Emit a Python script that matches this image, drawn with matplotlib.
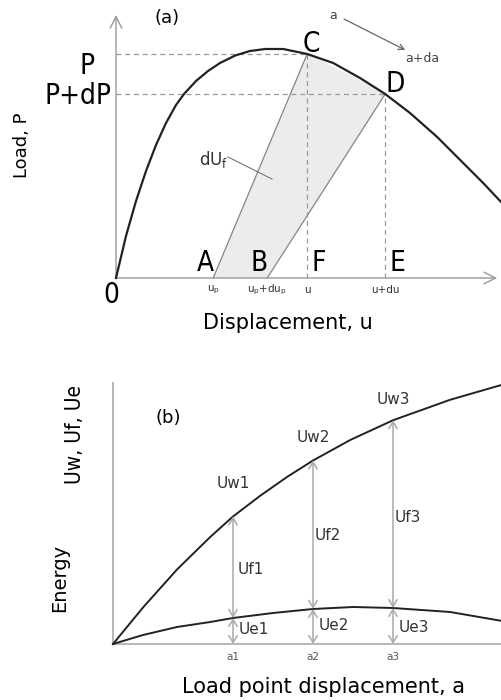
import matplotlib.pyplot as plt

# (a) load - displacement curve (arbitrary units)
u_curve = [0, 0.25, 0.5, 0.75, 1.0, 1.25, 1.5, 1.7, 2.0, 2.3, 2.6, 2.98, 3.35, 3.73, 4.18, 4.78,
           5.43, 6.1, 6.73, 7.35, 8.03, 8.68, 9.18, 9.65]
p_curve = [0, 1.68, 3.08, 4.28, 5.32, 6.2, 6.92, 7.36, 7.88, 8.28, 8.6, 8.9, 9.08, 9.16, 9.16, 8.96,
           8.6, 8.0, 7.36, 6.6, 5.64, 4.6, 3.8, 3.0]

# points A, B (plastic displacement) and C, D on the curve
u_A, u_B = 2.43, 3.78
u_C, p_C = 4.78, 8.96
u_D, p_D = 6.73, 7.36
u_labels = [r"u$_{\rm p}$", r"u$_{\rm p}$+du$_{\rm p}$", "u", "u+du"]

# (b) energies vs load point displacement
a_w = [0, 0.75, 1.6, 2.43, 3.0, 3.68, 4.35, 5.0, 5.93, 7.0, 8.43, 9.73]
uw = [0, 1.46, 2.98, 4.28, 5.1, 5.93, 6.68, 7.34, 8.16, 8.95, 9.77, 10.37]
a_e = [0, 0.75, 1.6, 2.43, 3.0, 4.0, 5.0, 6.0, 7.0, 8.43, 9.73]
ue = [0, 0.36, 0.68, 0.88, 1.04, 1.24, 1.4, 1.48, 1.44, 1.28, 0.92]

a_ticks = [3, 5, 7]
uw_pts = [5.1, 7.34, 8.95]
ue_pts = [1.04, 1.4, 1.44]
tick_labels = ["a1", "a2", "a3"]

narrow = ["Liberation Sans Narrow", "DejaVu Sans"]
big = dict(fontsize=20, fontstretch="condensed", family=narrow)
grey = "#999999"

fig = plt.figure(figsize=(5.02, 7), dpi=100)

# ---------------- (a) ----------------
ax = fig.add_axes([0, 0.5, 1, 0.5])
ax.set_xlim(-2.9, 9.65)
ax.set_ylim(-2.88, 11.12)
ax.axis("off")

arr = dict(arrowstyle="->,head_length=0.7,head_width=0.35", color=grey, lw=1,
           shrinkA=0, shrinkB=0, mutation_scale=12)
ax.annotate("", xy=(0, 10.52), xytext=(0, 0), arrowprops=arr)
ax.annotate("", xy=(9.53, 0), xytext=(0, 0), arrowprops=arr)

# shaded area ACDB
ax.fill([u_A, u_C, u_D, u_B], [0, p_C, p_D, 0], color="#ececec", zorder=1)
ax.plot([u_A, u_C], [0, p_C], color="#888888", lw=0.9)
ax.plot([u_B, u_D], [0, p_D], color="#888888", lw=0.9)

# dashed guides
dash = dict(color=grey, lw=0.9, ls=(0, (4, 3)))
ax.plot([0, u_C], [p_C, p_C], **dash)
ax.plot([0, u_D], [p_D, p_D], **dash)
ax.plot([u_C, u_C], [0, p_C], **dash)
ax.plot([u_D, u_D], [0, p_D], **dash)

ax.plot(u_curve, p_curve, color="#222222", lw=1.6, zorder=3, solid_joinstyle="round")

# point labels
ax.annotate("C", (u_C, p_C), xytext=(4, 10), textcoords="offset pixels", ha="center", va="center", **big)
ax.annotate("D", (u_D, p_D), xytext=(10, 10), textcoords="offset pixels", ha="center", va="center", **big)
for u, s, dx in zip([u_A, u_B, u_C, u_D], ["A", "B", "F", "E"], [-8, -8, 11, 12]):
    ax.annotate(s, (u, 0), xytext=(dx, 1), textcoords="offset pixels", ha="center", va="bottom", **big)
ax.annotate("0", (0, 0), xytext=(-5, -17), textcoords="offset pixels", ha="center", va="center", **big)
for u, s in zip([u_A, u_B, u_C, u_D], u_labels):
    ax.annotate(s, (u, 0), xytext=(0, -12), textcoords="offset pixels", ha="center", va="center",
                fontsize=7.5, color="#333333")

ax.annotate("P", (0, p_C), xytext=(-29, -12), textcoords="offset pixels", ha="center", va="center", **big)
ax.annotate("P+dP", (0, p_D), xytext=(-38, -2), textcoords="offset pixels", ha="center", va="center", **big)

ax.text(-2.35, 5.3, "Load, P", rotation=90, ha="center", va="center", fontsize=13)
ax.text(4.3, -1.8, "Displacement, u", ha="center", va="center", fontsize=15)
ax.text(1.28, 10.4, "(a)", ha="center", va="center", fontsize=13)

# crack growth arrow a -> a+da
ax.text(5.42, 10.5, "a", ha="center", va="center", fontsize=9, color="#444444")
ax.annotate("", xy=(7.23, 9.12), xytext=(5.7, 10.36),
            arrowprops=dict(arrowstyle="->", color="#666666", lw=0.9, shrinkA=0, shrinkB=0))
ax.text(7.65, 8.8, "a+da", ha="center", va="center", fontsize=9, color="#444444")

# dUf leader
ax.text(2.43, 4.72, r"dU$_{\rm f}$", ha="center", va="center", fontsize=12, color="#333333")
ax.plot([2.8, 3.9], [4.84, 3.96], color="#777777", lw=0.8)

# ---------------- (b) ----------------
bx = fig.add_axes([0, 0, 1, 0.5])
bx.set_xlim(-2.825, 9.725)
bx.set_ylim(-2.24, 11.76)
bx.axis("off")

bx.plot([0, 0], [0, 10.44], color="#aaaaaa", lw=1.2)
bx.plot([0, 9.725], [0, 0], color="#aaaaaa", lw=1.2)

bx.plot(a_w, uw, color="#222222", lw=1.4, zorder=3, solid_joinstyle="round")
bx.plot(a_e, ue, color="#222222", lw=1.4, zorder=3, solid_joinstyle="round")

darr = dict(arrowstyle="<->,head_length=0.5,head_width=0.3", color="#aaaaaa", lw=1.1,
            shrinkA=0, shrinkB=0, mutation_scale=10)
for i, (a, w, e) in enumerate(zip(a_ticks, uw_pts, ue_pts)):
    bx.annotate("", xy=(a, 0), xytext=(a, e), arrowprops=darr)
    bx.annotate("", xy=(a, w), xytext=(a, e), arrowprops=darr)
    bx.text(a, -0.52, tick_labels[i], ha="center", va="center", fontsize=7.5, color="#555555")

uw_off = [33, 23, 21]
uf_y = [3.0, 4.36, 5.08]
uf_dx = [0.12, 0.05, 0.05]
ue_y = [0.56, 0.72, 0.64]
for i, a in enumerate(a_ticks):
    bx.annotate("Uw%d" % (i + 1), (a, uw_pts[i]), xytext=(0, uw_off[i]), textcoords="offset pixels",
                ha="center", va="center", fontsize=11, color="#333333")
    bx.text(a + uf_dx[i], uf_y[i], "Uf%d" % (i + 1), ha="left", va="center", fontsize=11, color="#333333")
    bx.text(a + 0.15, ue_y[i], "Ue%d" % (i + 1), ha="left", va="center", fontsize=11, color="#333333")

bx.text(1.38, 9.04, "(b)", ha="center", va="center", fontsize=13)
bx.text(-0.95, 8.4, "Uw, Uf, Ue", rotation=90, ha="center", va="center", fontsize=15,
        fontstretch="condensed", family=narrow)
bx.text(-1.33, 2.64, "Energy", rotation=90, ha="center", va="center", fontsize=14)
bx.text(5.25, -1.72, "Load point displacement, a", ha="center", va="center", fontsize=15)

fig.savefig("out.png", dpi=100)
